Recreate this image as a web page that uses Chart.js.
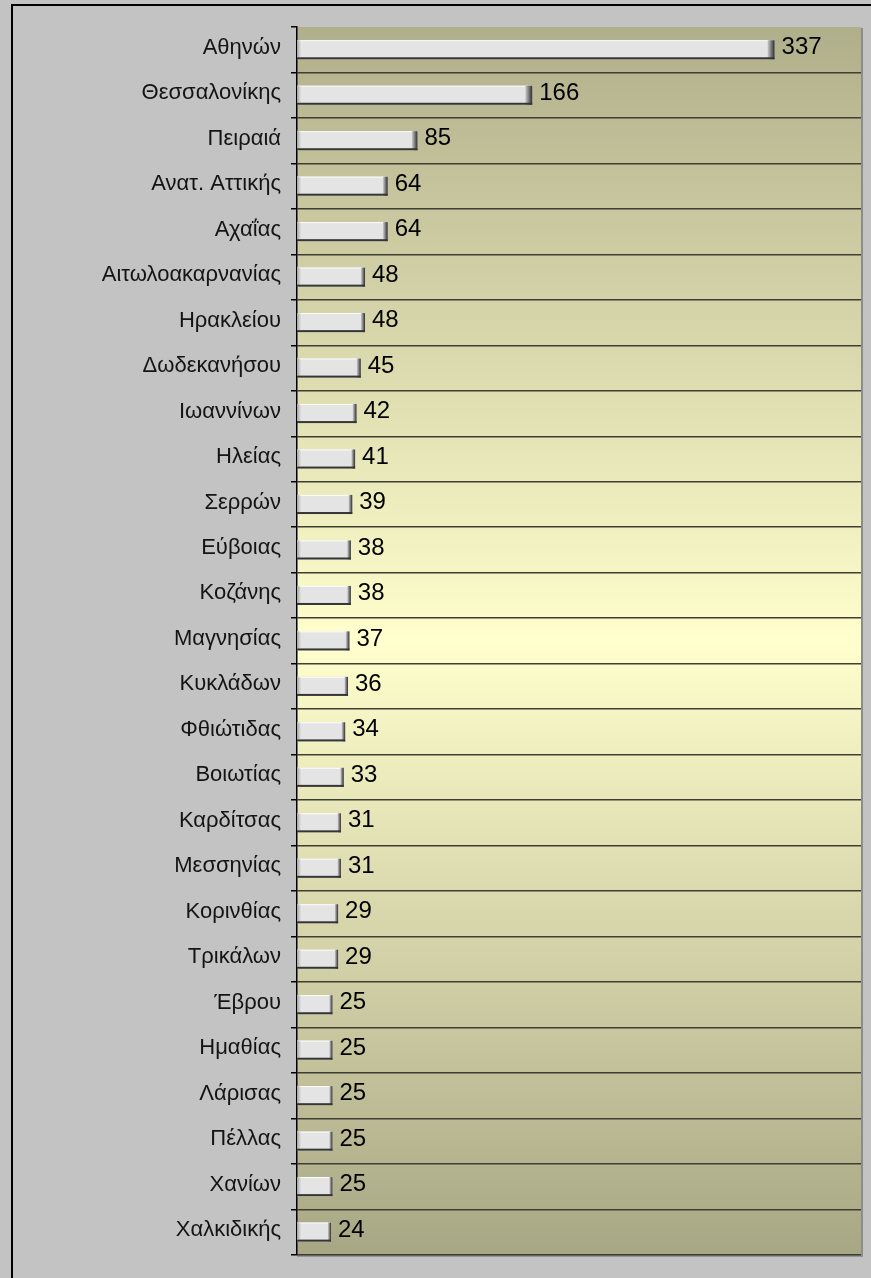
<!DOCTYPE html>
<html>
<head>
<meta charset="utf-8">
<script src="https://cdn.jsdelivr.net/npm/chart.js@4.4.1/dist/chart.umd.min.js"></script>
<style>
  html, body { margin: 0; padding: 0; background: #c3c3c3; overflow: hidden; }
  #wrap { position: absolute; left: 0; top: 0; width: 871px; height: 1278px; }
</style>
</head>
<body>
<div id="wrap"><canvas id="c" width="871" height="1278"></canvas></div>
<script>
const categories = ['Αθηνών','Θεσσαλονίκης','Πειραιά','Ανατ. Αττικής','Αχαΐας','Αιτωλοακαρνανίας','Ηρακλείου','Δωδεκανήσου','Ιωαννίνων','Ηλείας','Σερρών','Εύβοιας','Κοζάνης','Μαγνησίας','Κυκλάδων','Φθιώτιδας','Βοιωτίας','Καρδίτσας','Μεσσηνίας','Κορινθίας','Τρικάλων','Έβρου','Ημαθίας','Λάρισας','Πέλλας','Χανίων','Χαλκιδικής'];
const values = [337,166,85,64,64,48,48,45,42,41,39,38,38,37,36,34,33,31,31,29,29,25,25,25,25,25,24];
const axisMin = 0;
const axisMax = 398;

const plotBg = {
  id: 'plotBg',
  beforeDraw(chart) {
    const {ctx, chartArea: a} = chart;
    ctx.save();
    // outer frame (top and left edges)
    ctx.fillStyle = '#000';
    ctx.fillRect(11, 4, chart.width - 11, 2);
    ctx.fillRect(11, 4, 2, chart.height - 4);
    // shadow right & bottom
    ctx.fillStyle = '#8c8c8c';
    ctx.fillRect(a.right, a.top + 1, 2, a.bottom - a.top + 1);
    ctx.fillRect(a.left, a.bottom, a.right - a.left + 2, 2);
    const g = ctx.createLinearGradient(0, a.top, 0, a.bottom);
    g.addColorStop(0, '#b0af8b');
    g.addColorStop(0.5, '#fffecc');
    g.addColorStop(1, '#a8a785');
    ctx.fillStyle = g;
    ctx.fillRect(a.left, a.top, a.right - a.left, a.bottom - a.top);
    ctx.restore();
  }
};

const barDeco = {
  id: 'barDeco',
  afterDatasetsDraw(chart) {
    const {ctx} = chart;
    const meta = chart.getDatasetMeta(0);
    ctx.save();
    meta.data.forEach((bar, i) => {
      const top = bar.y - bar.height / 2;
      const h = bar.height;
      const left = bar.base;
      const right = bar.x;
      // top highlight
      ctx.fillStyle = 'rgba(255,255,255,0.9)';
      ctx.fillRect(left, top, right - left, 1);
      // left soft edge
      const lg = ctx.createLinearGradient(left, 0, left + 4, 0);
      lg.addColorStop(0, 'rgba(120,120,120,0.6)');
      lg.addColorStop(1, 'rgba(120,120,120,0)');
      ctx.fillStyle = lg;
      ctx.fillRect(left, top, 4, h - 2);
      // right cap
      const cw = Math.min(7, Math.max(3, (right - left) * 0.03 + 2));
      const rg = ctx.createLinearGradient(right - cw, 0, right, 0);
      rg.addColorStop(0, 'rgba(205,205,205,1)');
      rg.addColorStop(1, 'rgba(45,45,45,1)');
      ctx.fillStyle = rg;
      ctx.fillRect(right - cw, top, cw, h);
      // bottom dark edge
      ctx.fillStyle = '#353535';
      ctx.fillRect(left, top + h - 2, right - left, 2);
      // value label
      ctx.fillStyle = '#000';
      ctx.font = '24px "Liberation Sans", Arial, sans-serif';
      ctx.textAlign = 'left';
      ctx.textBaseline = 'middle';
      ctx.fillText(String(values[i]), right + 7, bar.y - 2);
    });
    ctx.restore();
  }
};

new Chart(document.getElementById('c'), {
  type: 'bar',
  data: {
    labels: categories,
    datasets: [{
      data: values,
      backgroundColor(context) {
        const chart = context.chart;
        const el = context.element;
        if (!chart.chartArea || !el || !Number.isFinite(el.y) || !Number.isFinite(el.height) || el.height <= 0) return '#e4e4e4';
        const y = el.y, h = el.height;
        const g = chart.ctx.createLinearGradient(0, y - h / 2, 0, y + h / 2);
        g.addColorStop(0, '#f8f8f8');
        g.addColorStop(0.5, '#e8e8e8');
        g.addColorStop(1, '#d4d4d4');
        return g;
      },
      borderWidth: 0,
      categoryPercentage: 1,
      barPercentage: 0.42
    }]
  },
  options: {
    indexAxis: 'y',
    responsive: false,
    animation: false,
    devicePixelRatio: 1,
    layout: { padding: { left: 0, top: 27, right: 10, bottom: 16 } },
    plugins: { legend: { display: false }, tooltip: { enabled: false } },
    scales: {
      x: { display: false, min: axisMin, max: axisMax },
      y: {
        afterFit(scale) { scale.width = 297; },
        grid: {
          offset: true,
          color(ctx) { return (ctx.index === 0 || ctx.index === categories.length) ? 'rgba(0,0,0,0)' : '#3e3e33'; },
          lineWidth: 1.5,
          tickColor: '#000',
          tickLength: 6,
          drawOnChartArea: true
        },
        border: { display: true, color: '#000', width: 1.5 },
        ticks: {
          color: '#141414',
          padding: 10,
          labelOffset: -2,
          autoSkip: false,
          font: { family: '"Liberation Sans", Arial, sans-serif', size: 22 }
        }
      }
    }
  },
  plugins: [plotBg, barDeco]
});
</script>
</body>
</html>
